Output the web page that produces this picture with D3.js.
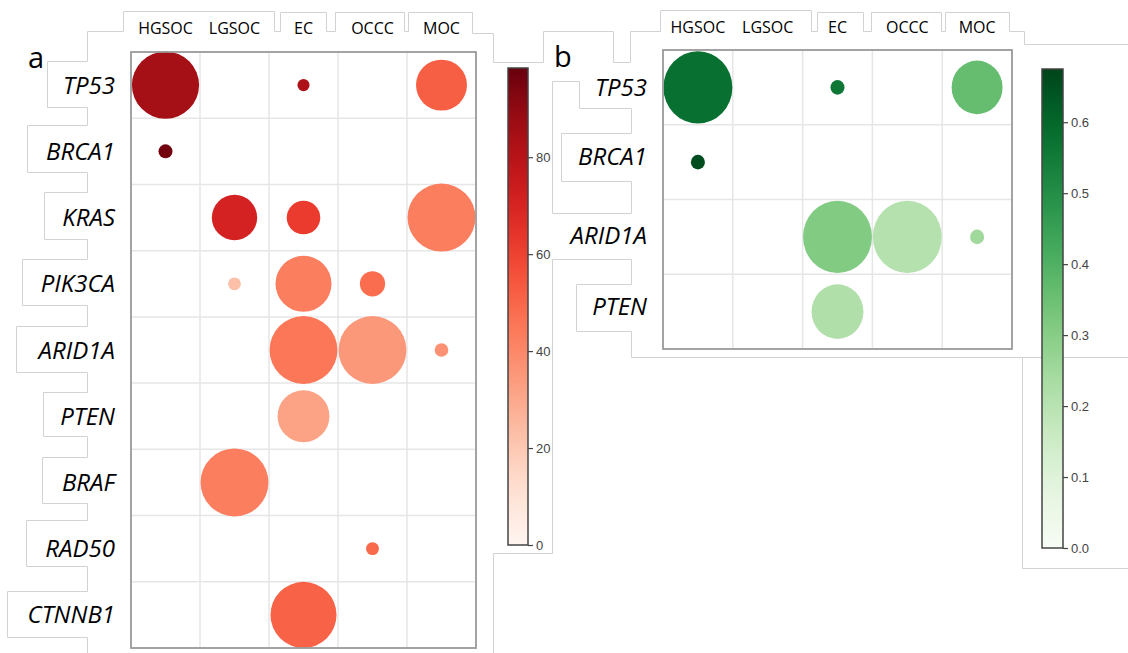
<!DOCTYPE html>
<html>
<head>
<meta charset="utf-8">
<script src="https://cdn.jsdelivr.net/npm/d3@7"></script>
<style>
  body { margin: 0; background: #fff; }
  svg { display: block; }
</style>
</head>
<body>
<svg id="fig" width="1128" height="653"></svg>
<script>
// ---- data -------------------------------------------------------------
const subtypes = ["HGSOC", "LGSOC", "EC", "OCCC", "MOC"];

// panel a: mutation frequency per gene and subtype
const genesA = ["TP53", "BRCA1", "KRAS", "PIK3CA", "ARID1A", "PTEN", "BRAF", "RAD50", "CTNNB1"];
const sizeA = [
  [92, null, 3, null, 53],
  [4, null, null, null, null],
  [null, 42, 23, null, 94],
  [null, 3.3, 64, 13, null],
  [null, null, 94, 94, 3.8],
  [null, null, 55, null, null],
  [null, 94, null, null, null],
  [null, null, null, 3.4, null],
  [null, null, 89, null, null]
];
const colorA = [
  [85, null, 83, null, 52],
  [96, null, null, null, null],
  [null, 71, 62, null, 43],
  [null, 23, 43, 48, null],
  [null, null, 45, 35, 37],
  [null, null, 32, null, null],
  [null, 43, null, null, null],
  [null, null, null, 49, null],
  [null, null, 51, null, null]
];
const ticksA = [0, 20, 40, 60, 80];
const maxA = 98.4;

// panel b
const genesB = ["TP53", "BRCA1", "ARID1A", "PTEN"];
const sizeB = [
  [97, null, 4, null, 53],
  [4, null, null, null, null],
  [null, null, 97, 97, 4],
  [null, null, 55, null, null]
];
const colorB = [
  [0.58, null, 0.56, null, 0.36],
  [0.655, null, null, null, null],
  [null, null, 0.31, 0.21, 0.25],
  [null, null, 0.22, null, null]
];
const ticksB = [0, 0.1, 0.2, 0.3, 0.4, 0.5, 0.6];
const maxB = 0.675;

// ---- layout -----------------------------------------------------------
const svg = d3.select("#fig");
svg.append("rect").attr("width", 1128).attr("height", 653).attr("fill", "#fff");

const OUT = "#d2d2d2";

// label frames around headers and gene names
const frames = [
  [[87,653],[87,637],[7,637],[7,591],[87,591],[87,566],[26,566],[26,520],[87,520],[87,503],
   [42,503],[42,457],[87,457],[87,436],[43,436],[43,392],[87,392],[87,372],[16,372],[16,326],
   [87,326],[87,305],[22,305],[22,259],[87,259],[87,239],[44,239],[44,192],[87,192],[87,172],
   [27,172],[27,125],[87,125],[87,107],[47,107],[47,61],[87,61],[87,31],[123,31],[123,11],
   [274,11],[274,31],[280,31],[280,12],[326,12],[326,31],[335,31],[335,12],[404,12],[404,31],
   [408,31],[408,12],[472,12],[472,33],[493,33],[493,62],[543,62],[543,31],[613,31],[613,62],
   [630,62],[630,31],[660,31],[660,10],[811,10],[811,31],[817,31],[817,12],[863,12],[863,31],
   [871,31],[871,12],[941,12],[941,31],[945,31],[945,12],[1009,12],[1009,31],[1024,31],[1024,44],[1128,44]],
  [[552,213],[552,81],[579,81],[579,108],[631,108],[631,133],[561,133],[561,181],[631,181],[631,213],[552,213]],
  [[493,653],[493,553],[552,553],[552,259],[631,259],[631,284],[576,284],[576,331],[631,331],[631,357],[1128,357]],
  [[1022,357],[1022,568],[1128,568]]
];
svg.append("g").selectAll("path").data(frames).join("path")
  .attr("d", d => d3.line()(d.map(p => [p[0] + 0.5, p[1] + 0.5])))
  .attr("fill", "none").attr("stroke", OUT).attr("stroke-width", 1);

function panel(opt) {
  const g = svg.append("g");
  const x = d3.scaleBand().domain(opt.cols).range([opt.x0, opt.x1]);
  const y = d3.scaleBand().domain(opt.rows).range([opt.y0, opt.y1]);
  const r = d3.scaleSqrt().domain([0, 100]).range([0, 35]);
  const c = d3.scaleSequential(opt.interp).domain([0, opt.max]);

  g.append("rect").attr("x", opt.x0).attr("y", opt.y0)
    .attr("width", opt.x1 - opt.x0).attr("height", opt.y1 - opt.y0).attr("fill", "#fff");

  // grid at cell boundaries
  g.selectAll(".vg").data(opt.cols.slice(1)).join("line")
    .attr("x1", d => x(d)).attr("x2", d => x(d)).attr("y1", opt.y0).attr("y2", opt.y1)
    .attr("stroke", "#e6e6e6").attr("stroke-width", 1.5);
  g.selectAll(".hg").data(opt.rows.slice(1)).join("line")
    .attr("y1", d => y(d)).attr("y2", d => y(d)).attr("x1", opt.x0).attr("x2", opt.x1)
    .attr("stroke", "#e6e6e6").attr("stroke-width", 1.5);

  const cells = [];
  opt.rows.forEach((gene, i) => opt.cols.forEach((st, j) => {
    const s = opt.size[i][j];
    if (s != null) cells.push({ gene, st, s, v: opt.color[i][j] });
  }));
  g.selectAll("ellipse").data(cells).join("ellipse")
    .attr("cx", d => x(d.st) + x.bandwidth() / 2)
    .attr("cy", d => y(d.gene) + y.bandwidth() / 2)
    .attr("rx", d => r(d.s))
    .attr("ry", d => r(d.s) * opt.aspect)
    .attr("fill", d => c(d.v));

  g.append("rect").attr("x", opt.x0).attr("y", opt.y0)
    .attr("width", opt.x1 - opt.x0).attr("height", opt.y1 - opt.y0)
    .attr("fill", "none").attr("stroke", "#9a9a9a").attr("stroke-width", 1.8);

  // column headers
  g.selectAll(".ch").data(opt.cols).join("text")
    .attr("x", d => x(d) + x.bandwidth() / 2).attr("y", opt.headY)
    .attr("text-anchor", "middle")
    .style("font-family", "'Open Sans', sans-serif").style("font-size", "16px").attr("fill", "#000")
    .text(d => d);

  // gene labels
  g.selectAll(".rl").data(opt.rows).join("text")
    .attr("x", opt.labelX)
    .attr("y", (d, i) => y(d) + y.bandwidth() / 2 + 8.5 + (opt.nudge ? opt.nudge[i] : 0))
    .attr("text-anchor", "end")
    .style("font-family", "'Open Sans', sans-serif").style("font-style", "italic")
    .style("font-size", "24px").attr("fill", "#000")
    .text(d => d);

  // panel letter
  g.append("text").attr("x", opt.letter[0]).attr("y", opt.letter[1])
    .style("font-family", "'Open Sans', sans-serif").style("font-size", "29px").attr("fill", "#000")
    .text(opt.name);

  // colour bar
  const cb = opt.cb;
  const cy = d3.scaleLinear().domain([0, opt.max]).range([cb.y1, cb.y0]);
  const gid = "grad-" + opt.name;
  const grad = svg.append("defs").append("linearGradient").attr("id", gid)
    .attr("x1", 0).attr("x2", 0).attr("y1", 1).attr("y2", 0);
  d3.range(0, 1.0001, 0.05).forEach(t =>
    grad.append("stop").attr("offset", t).attr("stop-color", c(t * opt.max)));
  g.append("rect").attr("x", cb.x0).attr("y", cb.y0)
    .attr("width", cb.x1 - cb.x0).attr("height", cb.y1 - cb.y0)
    .attr("fill", `url(#${gid})`).attr("stroke", "#444").attr("stroke-width", 1.5);
  const ax = g.append("g").attr("transform", `translate(${cb.x1},0)`)
    .call(d3.axisRight(cy).tickValues(opt.ticks).tickFormat(opt.fmt).tickSize(5).tickPadding(3));
  ax.select(".domain").remove();
  ax.selectAll("line").attr("stroke", "#444").attr("stroke-width", 1.2);
  ax.selectAll("text").attr("fill", "#444")
    .style("font-family", "'Liberation Sans', Arial, sans-serif").style("font-size", "13px");
}

panel({
  name: "a", cols: subtypes, rows: genesA, size: sizeA, color: colorA,
  interp: d3.interpolateReds, max: maxA, ticks: ticksA, fmt: d3.format("d"),
  x0: 131, x1: 476, y0: 52, y1: 648, aspect: 1,
  headY: 34, labelX: 115, letter: [28, 68],
  cb: { x0: 508, x1: 528, y0: 68, y1: 545 }
});

panel({
  name: "b", cols: subtypes, rows: genesB, size: sizeB, color: colorB,
  interp: d3.interpolateGreens, max: maxB, ticks: ticksB, fmt: d3.format(".1f"),
  x0: 663, x1: 1012, y0: 50, y1: 349, aspect: 1.05,
  headY: 33, labelX: 647, letter: [554, 67], nudge: [0, -6, -1, -5],
  cb: { x0: 1042, x1: 1063, y0: 69, y1: 548 }
});
</script>
</body>
</html>
